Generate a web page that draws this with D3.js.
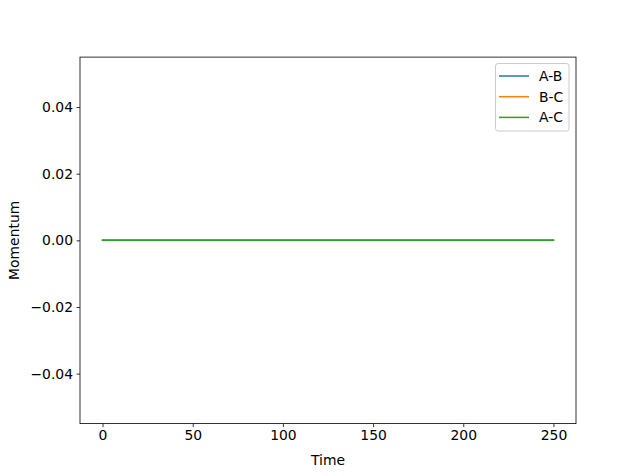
<!DOCTYPE html>
<html><head><meta charset="utf-8">
<script src="https://cdn.jsdelivr.net/npm/d3@7"></script>
<style>
body{margin:0;background:#fff;}
text{font-family:"DejaVu Sans",sans-serif;}
</style></head>
<body><svg id="c" width="640" height="476"></svg>
<script>
const time = [0, 50, 100, 150, 200, 250];
const seriesNames = ["A-B", "B-C", "A-C"];
const abValues = [0, 0, 0, 0, 0, 0];
const bcValues = [0, 0, 0, 0, 0, 0];
const acValues = [0, 0, 0, 0, 0, 0];
const colors = ["#1f77b4", "#ff7f0e", "#2ca02c"];
const xTicks = [0, 50, 100, 150, 200, 250];
const yTicks = [-0.04, -0.02, 0.00, 0.02, 0.04];

const series = [abValues, bcValues, acValues];
const svg = d3.select("#c");
const L = 80, R = 576, T = 57.1, B = 423.6;
const x = d3.scaleLinear().domain([-12.5, 262.5]).range([L, R]);
const y = d3.scaleLinear().domain([-0.055, 0.055]).range([B, T]);

const fs = "13.9px";
// x axis
const xa = svg.append("g").attr("transform", `translate(0,${B})`)
  .call(d3.axisBottom(x).tickValues(xTicks).tickSize(3.5).tickPadding(3.5).tickFormat(d3.format("d")));
const ya = svg.append("g").attr("transform", `translate(${L},0)`)
  .call(d3.axisLeft(y).tickValues(yTicks).tickSize(3.5).tickPadding(3.5).tickFormat(d3.format(".2f")));
[xa, ya].forEach(a => {
  a.select(".domain").remove();
  a.selectAll("line").attr("stroke", "#000").attr("stroke-width", 0.8);
  a.selectAll("text").attr("font-size", fs).attr("fill", "#000").attr("font-family", "DejaVu Sans");
});
ya.selectAll("text").text(d => d3.format(".2f")(d).replace("-", "\u2212"));

// lines
const line = d3.line().x((d, i) => x(time[i])).y(d => y(d));
series.forEach((s, k) => {
  svg.append("path").datum(s).attr("d", line).attr("fill", "none")
    .attr("stroke", colors[k]).attr("stroke-width", 1.5).attr("stroke-linecap", "square");
});

// frame
svg.append("rect").attr("x", L).attr("y", T).attr("width", R - L).attr("height", B - T)
  .attr("fill", "none").attr("stroke", "#000").attr("stroke-width", 0.8);

// labels
svg.append("text").attr("x", (L + R) / 2).attr("y", 465).attr("text-anchor", "middle")
  .attr("font-size", fs).text("Time");
svg.append("text").attr("transform", `translate(19,${(T + B) / 2}) rotate(-90)`)
  .attr("text-anchor", "middle").attr("font-size", fs).text("Momentum");

// legend
const lg = svg.append("g");
lg.append("rect").attr("x", 495.5).attr("y", 63.5).attr("width", 73.5).attr("height", 67.5)
  .attr("rx", 2.5).attr("fill", "#fff").attr("fill-opacity", 0.8)
  .attr("stroke", "#cccccc").attr("stroke-width", 1);
seriesNames.forEach((n, k) => {
  const yy = 76 + k * 20.7;
  lg.append("line").attr("x1", 499).attr("x2", 529).attr("y1", yy).attr("y2", yy)
    .attr("stroke", colors[k]).attr("stroke-width", 1.5);
  lg.append("text").attr("x", 539).attr("y", yy + 5).attr("font-size", fs).text(n);
});
</script></body></html>
